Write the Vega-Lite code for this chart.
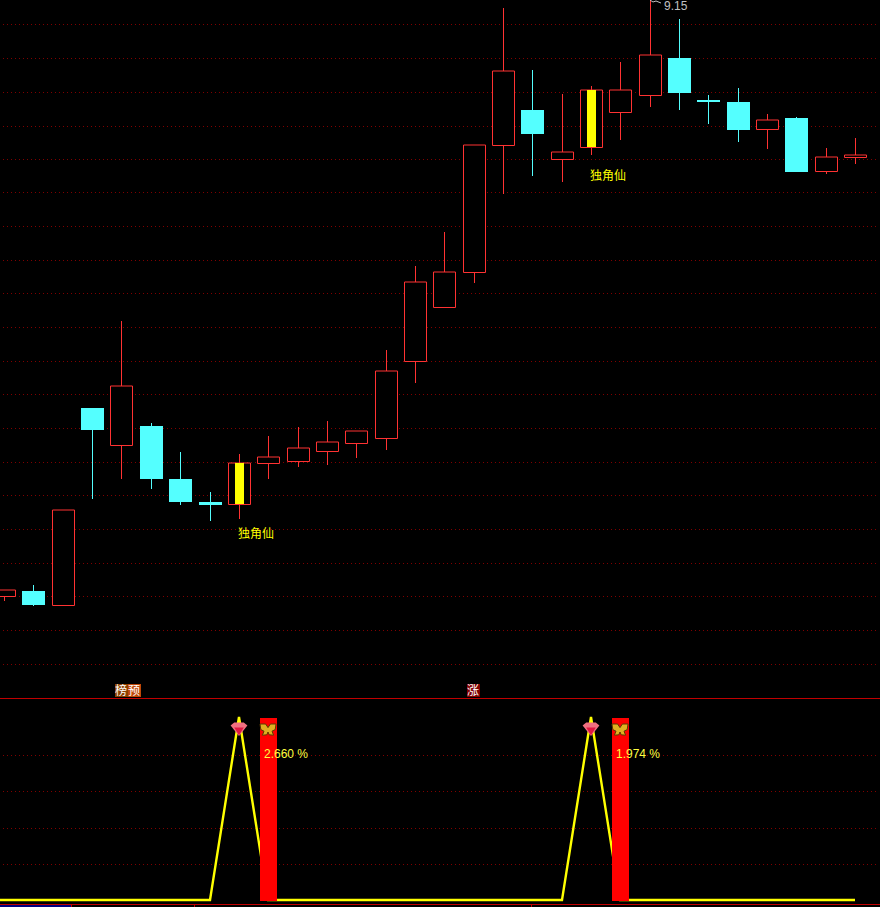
{
"$schema":"https://vega.github.io/schema/vega-lite/v6.json",
"background":"#000000",
"padding":0,
"spacing":0,
"config":{"view":{"stroke":null},"concat":{"spacing":0},"text":{"font":"Liberation Sans"}},
"datasets":{
"candles":[
{"idx":1,"open":6.17,"close":6.2,"high":6.2,"low":6.145,"dir":"up"},
{"idx":2,"open":6.195,"close":6.125,"high":6.225,"low":6.12,"dir":"down"},
{"idx":3,"open":6.125,"close":6.6,"high":6.6,"low":6.125,"dir":"up"},
{"idx":4,"open":7.11,"close":7.0,"high":7.11,"low":6.655,"dir":"down"},
{"idx":5,"open":6.925,"close":7.22,"high":7.545,"low":6.755,"dir":"up"},
{"idx":6,"open":7.02,"close":6.755,"high":7.035,"low":6.705,"dir":"down"},
{"idx":7,"open":6.755,"close":6.64,"high":6.89,"low":6.625,"dir":"down"},
{"idx":8,"open":6.64,"close":6.625,"high":6.69,"low":6.545,"dir":"down"},
{"idx":9,"open":6.63,"close":6.835,"high":6.88,"low":6.555,"dir":"up","signal":1},
{"idx":10,"open":6.835,"close":6.865,"high":6.97,"low":6.755,"dir":"up"},
{"idx":11,"open":6.845,"close":6.91,"high":7.015,"low":6.815,"dir":"up"},
{"idx":12,"open":6.895,"close":6.94,"high":7.045,"low":6.825,"dir":"up"},
{"idx":13,"open":6.935,"close":6.995,"high":6.995,"low":6.86,"dir":"up"},
{"idx":14,"open":6.96,"close":7.295,"high":7.4,"low":6.9,"dir":"up"},
{"idx":15,"open":7.345,"close":7.74,"high":7.82,"low":7.235,"dir":"up"},
{"idx":16,"open":7.615,"close":7.79,"high":7.99,"low":7.615,"dir":"up"},
{"idx":17,"open":7.79,"close":8.425,"high":8.425,"low":7.735,"dir":"up"},
{"idx":18,"open":8.425,"close":8.795,"high":9.11,"low":8.18,"dir":"up"},
{"idx":19,"open":8.6,"close":8.48,"high":8.8,"low":8.27,"dir":"down"},
{"idx":20,"open":8.355,"close":8.39,"high":8.68,"low":8.24,"dir":"up"},
{"idx":21,"open":8.415,"close":8.7,"high":8.72,"low":8.375,"dir":"up","signal":1},
{"idx":22,"open":8.59,"close":8.7,"high":8.84,"low":8.45,"dir":"up"},
{"idx":23,"open":8.675,"close":8.875,"high":9.15,"low":8.615,"dir":"up"},
{"idx":24,"open":8.86,"close":8.685,"high":9.055,"low":8.6,"dir":"down"},
{"idx":25,"open":8.65,"close":8.64,"high":8.675,"low":8.53,"dir":"down"},
{"idx":26,"open":8.64,"close":8.5,"high":8.71,"low":8.44,"dir":"down"},
{"idx":27,"open":8.505,"close":8.55,"high":8.58,"low":8.405,"dir":"up"},
{"idx":28,"open":8.56,"close":8.29,"high":8.565,"low":8.29,"dir":"down"},
{"idx":29,"open":8.295,"close":8.365,"high":8.41,"low":8.28,"dir":"up"},
{"idx":30,"open":8.365,"close":8.375,"high":8.46,"low":8.33,"dir":"up"}
],
"priceGrid":[{"p":9.03},{"p":8.86},{"p":8.69},{"p":8.52},{"p":8.355},{"p":8.19},{"p":8.02},{"p":7.85},{"p":7.685},{"p":7.515},{"p":7.345},{"p":7.18},{"p":7.01},{"p":6.84},{"p":6.675},{"p":6.505},{"p":6.335},{"p":6.17},{"p":6.0},{"p":5.83}],
"signals":[{"idx":9,"price":6.48,"label":"独角仙"},{"idx":21,"price":8.27,"label":"独角仙"}],
"badges":[{"idx":4.99,"top":5.73,"bottom":5.665,"mid":5.6975,"label":"榜","tone":"a"},{"idx":5.43,"top":5.73,"bottom":5.665,"mid":5.6975,"label":"预","tone":"b"},{"idx":16.98,"top":5.73,"bottom":5.665,"mid":5.6975,"label":"涨","tone":"c"}],
"peakLeader":[{"idx":23,"price":9.15},{"idx":23.12,"price":9.14},{"idx":23.22,"price":9.145},{"idx":23.4,"price":9.135}],
"indicator":[{"idx":0,"v":0},{"idx":1,"v":0},{"idx":2,"v":0},{"idx":3,"v":0},{"idx":4,"v":0},{"idx":5,"v":0},{"idx":6,"v":0},{"idx":7,"v":0},{"idx":8,"v":0},{"idx":9,"v":100},{"idx":10,"v":0},{"idx":11,"v":0},{"idx":12,"v":0},{"idx":13,"v":0},{"idx":14,"v":0},{"idx":15,"v":0},{"idx":16,"v":0},{"idx":17,"v":0},{"idx":18,"v":0},{"idx":19,"v":0},{"idx":20,"v":0},{"idx":21,"v":100},{"idx":22,"v":0},{"idx":23,"v":0},{"idx":24,"v":0},{"idx":25,"v":0},{"idx":26,"v":0},{"idx":27,"v":0},{"idx":28,"v":0},{"idx":29,"v":0},{"idx":30,"v":0}],
"events":[{"idx":10,"peak":9,"v":100,"base":0,"icon":93.5,"pctY":80.5,"pct":"2.660 %"},{"idx":22,"peak":21,"v":100,"base":0,"icon":93.5,"pctY":80.5,"pct":"1.974 %"}],
"indGrid":[{"v":80},{"v":60},{"v":40},{"v":20}],
"dateTicks":[{"idx":3.266,"a":-2,"b":-3.56},{"idx":7.458,"a":-2,"b":-3.56},{"idx":18.94,"a":-2,"b":-3.56}]
},
"vconcat":[
{
"width":880,"height":698,
"layer":[
{"data":{"name":"priceGrid"},"mark":{"type":"rule","clip":true,"stroke":"#800000","strokeWidth":1,"strokeDash":[1,3],"yOffset":0.5},"encoding":{"x":{"datum":0.95,"type":"quantitative","axis":null,"scale":{"domain":[0.86,30.85],"round":true,"nice":false,"zero":false,"padding":0}},"x2":{"datum":30.8},"y":{"field":"p","type":"quantitative","axis":null,"scale":{"domain":[5.66,9.15],"round":true,"nice":false,"zero":false,"padding":0}}}},
{"data":{"name":"candles"},"transform":[{"filter":"datum.dir=='up'"}],"mark":{"type":"rule","clip":true,"stroke":"#ff3232","strokeWidth":1,"xOffset":0.5},"encoding":{"x":{"field":"idx","type":"quantitative","axis":null},"y":{"field":"low","type":"quantitative","axis":null},"y2":{"field":"high"}}},
{"data":{"name":"candles"},"transform":[{"filter":"datum.dir=='down'"}],"mark":{"type":"rule","clip":true,"stroke":"#54fcfc","strokeWidth":1,"xOffset":0.5},"encoding":{"x":{"field":"idx","type":"quantitative","axis":null},"y":{"field":"low","type":"quantitative","axis":null},"y2":{"field":"high"}}},
{"data":{"name":"candles"},"transform":[{"filter":"datum.dir=='up'"}],"mark":{"type":"bar","clip":true,"size":22,"fill":"#000000","stroke":"#ff3232","strokeWidth":1,"xOffset":0.5,"yOffset":0.5},"encoding":{"x":{"field":"idx","type":"quantitative","axis":null},"y":{"field":"open","type":"quantitative","axis":null},"y2":{"field":"close"}}},
{"data":{"name":"candles"},"transform":[{"filter":"datum.dir=='down'"}],"mark":{"type":"bar","clip":true,"size":23,"fill":"#54ffff","stroke":null,"xOffset":0.5},"encoding":{"x":{"field":"idx","type":"quantitative","axis":null},"y":{"field":"open","type":"quantitative","axis":null},"y2":{"field":"close"}}},
{"data":{"name":"candles"},"transform":[{"filter":"datum.signal==1"}],"mark":{"type":"bar","clip":true,"size":9,"fill":"#ffff00","stroke":null,"xOffset":0.5},"encoding":{"x":{"field":"idx","type":"quantitative","axis":null},"y":{"field":"open","type":"quantitative","axis":null},"y2":{"field":"close"}}},
{"data":{"name":"signals"},"mark":{"type":"text","clip":true,"align":"left","baseline":"middle","dx":-1,"fontSize":12,"font":"Noto Sans CJK SC","fill":"#ffff00"},"encoding":{"x":{"field":"idx","type":"quantitative","axis":null},"y":{"field":"price","type":"quantitative","axis":null},"text":{"field":"label"}}},
{"data":{"name":"peakLeader"},"mark":{"type":"line","stroke":"#c0c0c0","strokeWidth":1,"clip":true},"encoding":{"x":{"field":"idx","type":"quantitative","axis":null},"y":{"field":"price","type":"quantitative","axis":null}}},
{"data":{"values":[{"idx":23,"price":9.12,"label":"9.15"}]},"mark":{"type":"text","clip":true,"align":"left","baseline":"middle","dx":14,"fontSize":12,"font":"Liberation Sans","fill":"#c0c0c0"},"encoding":{"x":{"field":"idx","type":"quantitative","axis":null},"y":{"field":"price","type":"quantitative","axis":null},"text":{"field":"label"}}},
{"data":{"name":"badges"},"mark":{"type":"bar","clip":true,"size":13,"stroke":null,"xOffset":0.5},"encoding":{"x":{"field":"idx","type":"quantitative","axis":null},"y":{"field":"top","type":"quantitative","axis":null},"y2":{"field":"bottom"},"color":{"field":"tone","type":"nominal","legend":null,"scale":{"domain":["a","b","c"],"range":["#8c4000","#c04808","#800000"]}}}},
{"data":{"name":"badges"},"mark":{"type":"text","clip":true,"align":"center","baseline":"middle","fontSize":12,"font":"Noto Sans CJK SC","fill":"#ffffff"},"encoding":{"x":{"field":"idx","type":"quantitative","axis":null},"y":{"field":"mid","type":"quantitative","axis":null},"text":{"field":"label"}}}
]
},
{
"width":880,"height":209,
"layer":[
{"data":{"name":"indGrid"},"mark":{"type":"rule","clip":true,"stroke":"#800000","strokeWidth":1,"strokeDash":[1,3],"yOffset":0.5},"encoding":{"x":{"datum":0.95,"type":"quantitative","axis":null,"scale":{"domain":[0.86,30.85],"round":true,"nice":false,"zero":false,"padding":0}},"x2":{"datum":30.8},"y":{"field":"v","type":"quantitative","axis":null,"scale":{"domain":[-3.56,110.96],"round":true,"nice":false,"zero":false,"padding":0}}}},
{"data":{"values":[{"v":110.7},{"v":-2}]},"mark":{"type":"rule","clip":true,"stroke":"#c00000","strokeWidth":1,"yOffset":0.5},"encoding":{"y":{"field":"v","type":"quantitative","axis":null}}},
{"data":{"name":"dateTicks"},"mark":{"type":"rule","clip":true,"stroke":"#c00000","strokeWidth":1,"xOffset":0.5},"encoding":{"x":{"field":"idx","type":"quantitative","axis":null},"y":{"field":"a","type":"quantitative","axis":null},"y2":{"field":"b"}}},
{"data":{"values":[{"a":0.86,"b":3.266,"t":-2.4,"u":-3.56}]},"mark":{"type":"rect","clip":true,"fill":"#000080","stroke":null},"encoding":{"x":{"field":"a","type":"quantitative","axis":null},"x2":{"field":"b"},"y":{"field":"t","type":"quantitative","axis":null},"y2":{"field":"u"}}},
{"data":{"name":"indicator"},"mark":{"type":"line","stroke":"#ffff00","strokeWidth":2.4,"clip":true,"interpolate":"linear","yOffset":-1},"encoding":{"x":{"field":"idx","type":"quantitative","axis":null},"y":{"field":"v","type":"quantitative","axis":null}}},
{"data":{"name":"events"},"mark":{"type":"bar","clip":true,"size":17,"fill":"#ff0000","stroke":null,"xOffset":0.5},"encoding":{"x":{"field":"idx","type":"quantitative","axis":null},"y":{"field":"v","type":"quantitative","axis":null},"y2":{"field":"base"}}},
{"data":{"name":"events"},"mark":{"type":"point","clip":true,"filled":true,"size":1600,"fill":"#f07080","stroke":null,"opacity":1,"shape":"M-0.42,-0.22 L-0.24,-0.38 L0.24,-0.38 L0.42,-0.22 L0,0.3 Z"},"encoding":{"x":{"field":"peak","type":"quantitative","axis":null},"y":{"field":"icon","type":"quantitative","axis":null}}},
{"data":{"name":"events"},"mark":{"type":"point","clip":true,"filled":true,"size":1600,"fill":"#e01840","stroke":null,"opacity":1,"shape":"M-0.24,-0.12 L0.24,-0.12 L0,0.26 Z"},"encoding":{"x":{"field":"peak","type":"quantitative","axis":null},"y":{"field":"icon","type":"quantitative","axis":null}}},
{"data":{"name":"events"},"mark":{"type":"point","clip":true,"filled":true,"size":1600,"fill":"#e0b020","stroke":"#5a3a00","strokeWidth":1,"opacity":1,"shape":"M0,-0.12 L-0.12,-0.3 L-0.4,-0.3 L-0.36,-0.02 L-0.2,0.06 L-0.28,0.26 L-0.06,0.24 L0,0.1 L0.06,0.24 L0.28,0.26 L0.2,0.06 L0.36,-0.02 L0.4,-0.3 L0.12,-0.3 Z"},"encoding":{"x":{"field":"idx","type":"quantitative","axis":null},"y":{"field":"icon","type":"quantitative","axis":null}}},
{"data":{"name":"events"},"mark":{"type":"text","clip":true,"align":"left","baseline":"middle","dx":-4,"fontSize":12,"font":"Liberation Sans","fill":"#ffff40"},"encoding":{"x":{"field":"idx","type":"quantitative","axis":null},"y":{"field":"pctY","type":"quantitative","axis":null},"text":{"field":"pct"}}}
]
}
]
}
